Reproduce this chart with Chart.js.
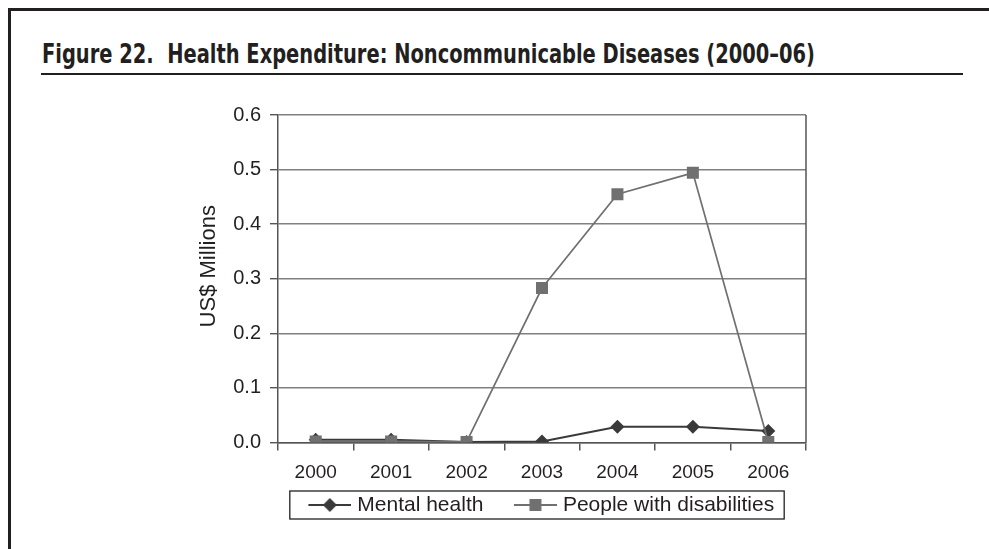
<!DOCTYPE html>
<html>
<head>
<meta charset="utf-8">
<script src="https://cdn.jsdelivr.net/npm/chart.js@4.4.1/dist/chart.umd.min.js"></script>
<style>
html,body{margin:0;padding:0;background:#fff;}
#page{position:relative;width:989px;height:549px;overflow:hidden;background:#fff;}
#frameTop{position:absolute;left:8px;top:8px;right:0;height:2.5px;background:#231f20;}
#frameLeft{position:absolute;left:8px;top:8px;width:2.5px;bottom:0;background:#231f20;}
#title{position:absolute;left:42px;top:40px;font-family:"Liberation Sans Narrow","DejaVu Sans Condensed","Roboto Condensed",sans-serif;font-weight:bold;font-size:27px;line-height:1;color:#231f20;white-space:nowrap;transform-origin:0 0;}
#rule{position:absolute;left:41px;top:73.3px;width:922px;height:2px;background:#231f20;}
#chart{position:absolute;left:0;top:0;}
</style>
</head>
<body>
<div id="page">
  <div id="frameTop"></div>
  <div id="frameLeft"></div>
  <div id="title">Figure 22.&nbsp; Health Expenditure: Noncommunicable Diseases (2000–06)</div>
  <div id="rule"></div>
  <canvas id="chart" width="989" height="549"></canvas>
</div>
<script>
// ---- data ----
const years = ['2000', '2001', '2002', '2003', '2004', '2005', '2006'];
const mentalHealth = [0.005, 0.005, 0.001, 0.002, 0.029, 0.029, 0.021];
const peopleWithDisabilities = [0.002, 0.002, 0.001, 0.283, 0.455, 0.494, 0.001];
const seriesNames = ['Mental health', 'People with disabilities'];
const yAxisTitle = 'US$ Millions';
const yTickValues = [0, 0.1, 0.2, 0.3, 0.4, 0.5, 0.6];

// fit title width
(function(){
  const t = document.getElementById('title');
  const w = t.getBoundingClientRect().width;
  const target = 773;
  t.style.transform = 'scaleX(' + (target / w) + ')';
})();

const mentalColor = '#3a3a3a';
const disColor = '#707070';

// legend icon: line sample with marker, drawn in right part of a wider canvas
function makeIcon(lineColor, markerColor, shape) {
  const c = document.createElement('canvas');
  c.width = 66; c.height = 16;
  const x = c.getContext('2d');
  x.strokeStyle = lineColor; x.lineWidth = 2;
  x.beginPath(); x.moveTo(23, 8); x.lineTo(66, 8); x.stroke();
  x.fillStyle = markerColor;
  x.beginPath();
  const cx = 44.5;
  if (shape === 'diamond') {
    x.moveTo(cx, 1); x.lineTo(cx + 7, 8); x.lineTo(cx, 15); x.lineTo(cx - 7, 8); x.closePath();
  } else {
    x.rect(cx - 6, 2, 12, 12);
  }
  x.fill();
  return c;
}
const mentalIcon = makeIcon(mentalColor, mentalColor, 'diamond');
const disIcon = makeIcon(disColor, disColor, 'square');

const extrasPlugin = {
  id: 'extras',
  afterLayout(chart) {
    const lg = chart.legend;
    if (lg) { lg.left -= 10; lg.right -= 10; }
  },
  afterDraw(chart) {
    const ctx = chart.ctx;
    const a = chart.chartArea;
    ctx.save();
    // right border of plot area
    ctx.strokeStyle = '#555555';
    ctx.lineWidth = 1.5;
    ctx.beginPath();
    ctx.moveTo(a.right, a.top);
    ctx.lineTo(a.right, a.bottom);
    ctx.stroke();
    // y axis title
    ctx.fillStyle = '#231f20';
    ctx.font = '22px "Liberation Sans", Arial, sans-serif';
    ctx.textAlign = 'center';
    ctx.textBaseline = 'middle';
    ctx.translate(a.left - 69, (a.top + a.bottom) / 2 - 12.5);
    ctx.rotate(-Math.PI / 2);
    ctx.fillText(yAxisTitle, 0, 0);
    ctx.restore();
    // legend border
    const lg = chart.legend;
    if (lg && lg.legendHitBoxes && lg.legendHitBoxes.length) {
      let minL = Infinity, maxR = -Infinity, minT = Infinity, maxB = -Infinity;
      lg.legendHitBoxes.forEach(h => {
        minL = Math.min(minL, h.left); maxR = Math.max(maxR, h.left + h.width);
        minT = Math.min(minT, h.top); maxB = Math.max(maxB, h.top + h.height);
      });
      ctx.save();
      ctx.strokeStyle = '#231f20';
      ctx.lineWidth = 1.3;
      const x0 = minL, x1 = maxR + 10, y0 = minT - 3.5, y1 = maxB + 3.5;
      ctx.strokeRect(x0, y0, x1 - x0, y1 - y0);
      ctx.restore();
    }
  }
};

new Chart(document.getElementById('chart'), {
  type: 'line',
  data: {
    labels: years,
    datasets: [
      {
        label: seriesNames[0],
        data: mentalHealth,
        borderColor: mentalColor,
        backgroundColor: mentalColor,
        borderWidth: 2,
        pointStyle: 'rectRot',
        pointRadius: 7,
        pointBorderWidth: 0,
        pointBackgroundColor: mentalColor,
        tension: 0,
        order: 1
      },
      {
        label: seriesNames[1],
        data: peopleWithDisabilities,
        borderColor: disColor,
        backgroundColor: disColor,
        borderWidth: 1.7,
        pointStyle: 'rect',
        pointRadius: 8.5,
        pointBorderWidth: 0,
        pointBackgroundColor: disColor,
        tension: 0,
        order: 0
      }
    ]
  },
  options: {
    responsive: false,
    animation: false,
    devicePixelRatio: 1,
    layout: { padding: { left: 190, right: 183, top: 115, bottom: 23.5 } },
    plugins: {
      title: { display: false },
      tooltip: { enabled: false },
      legend: {
        display: true,
        position: 'bottom',
        fullSize: false,
        labels: {
          usePointStyle: true,
          pointStyleWidth: 57,
          padding: 12,
          color: '#231f20',
          font: { family: '"Liberation Sans", Arial, sans-serif', size: 21 },
          sort: (a, b) => a.datasetIndex - b.datasetIndex,
          generateLabels: (chart) => chart.data.datasets.map((ds, i) => ({
            text: ds.label,
            datasetIndex: i,
            pointStyle: i === 0 ? mentalIcon : disIcon,
            fillStyle: ds.borderColor,
            strokeStyle: ds.borderColor,
            lineWidth: 0,
            hidden: false,
            fontColor: '#231f20'
          }))
        }
      }
    },
    scales: {
      x: {
        offset: true,
        afterFit: (s) => { s.height = 40; },
        grid: {
          display: true,
          offset: true,
          drawOnChartArea: false,
          drawTicks: true,
          tickLength: 8,
          color: '#555555',
          lineWidth: 1.5
        },
        border: { display: true, color: '#555555', width: 1.5 },
        ticks: {
          color: '#231f20',
          padding: 11,
          maxRotation: 0,
          font: { family: '"Liberation Sans", Arial, sans-serif', size: 19 }
        }
      },
      y: {
        min: 0,
        max: 0.6,
        afterFit: (s) => { s.width = 88; },
        afterBuildTicks: (s) => { s.ticks = yTickValues.map(v => ({ value: v })); },
        grid: {
          color: '#808080',
          lineWidth: 1.4,
          tickColor: '#555555',
          tickLength: 8,
          drawTicks: true
        },
        border: { display: true, color: '#555555', width: 1.5 },
        ticks: {
          color: '#231f20',
          padding: 9,
          font: { family: '"Liberation Sans", Arial, sans-serif', size: 20 },
          callback: (v) => Number(v).toFixed(1)
        },
        title: { display: false }
      }
    }
  },
  plugins: [extrasPlugin]
});
</script>
</body>
</html>
